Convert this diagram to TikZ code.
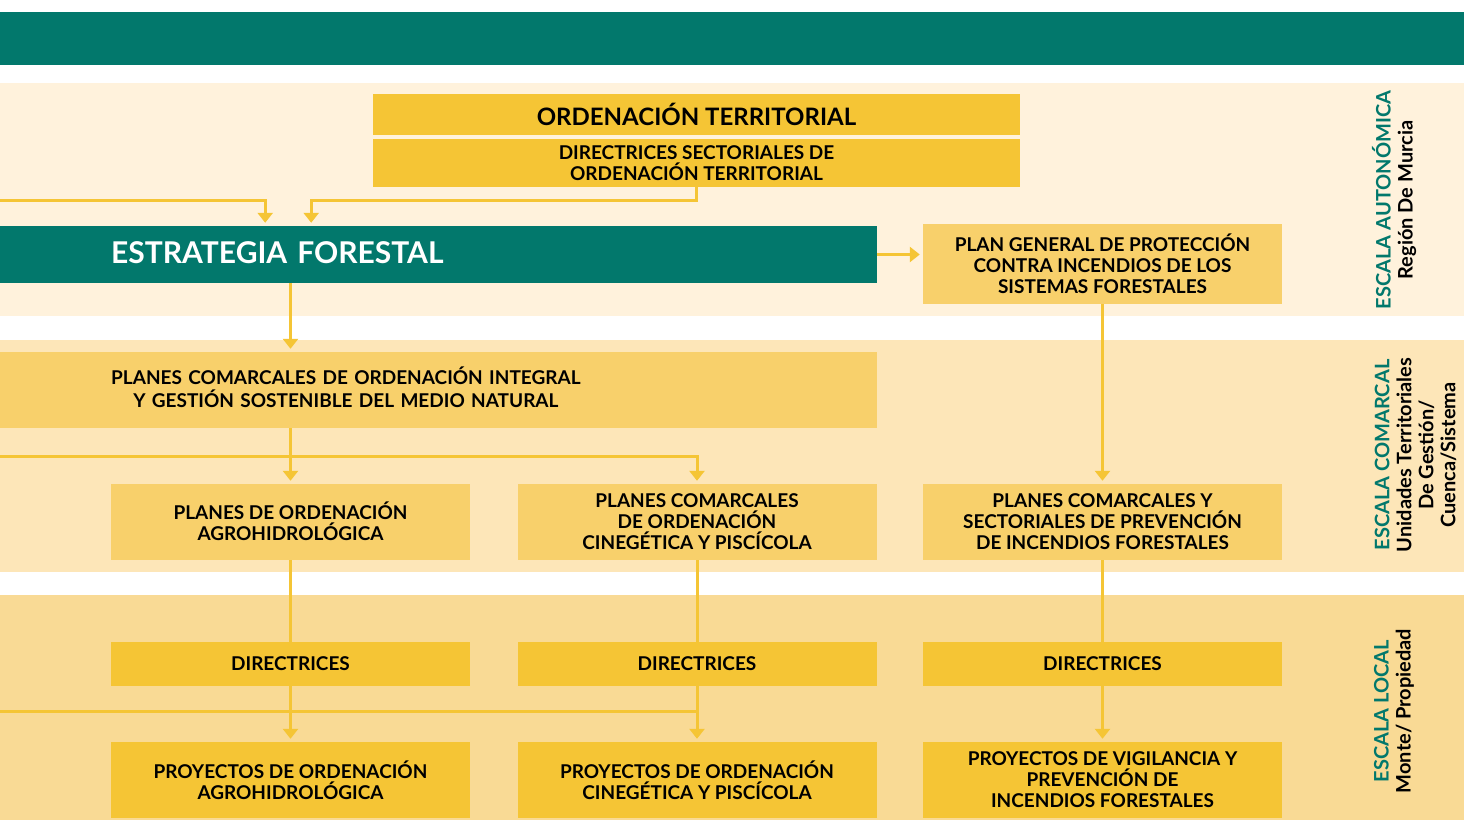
\documentclass[tikz,border=0pt]{standalone}
\usepackage{fontspec}
\setmainfont{Lato}
\usetikzlibrary{arrows.meta}
\definecolor{pine}{HTML}{02786C}
\definecolor{gold}{HTML}{F5C535}
\definecolor{straw}{HTML}{F8D06B}
\definecolor{bandA}{HTML}{FFF2DC}
\definecolor{bandB}{HTML}{FDE6B8}
\definecolor{bandC}{HTML}{F9DA95}
\begin{document}
\begin{tikzpicture}[x=1pt, y=-1pt,
    box/.style={fill=straw, minimum width=359pt, minimum height=76pt, inner sep=0pt,
      align=center, font=\fontsize{19}{21}\selectfont\bfseries},
    gbox/.style={box, fill=gold},
    side/.style={rotate=90, align=center, font=\fontsize{20}{22}\selectfont\bfseries},
    link/.style={gold, line width=3pt},
    arr/.style={link, -{Triangle[width=15pt,length=10pt]}, shorten >=3pt}]
  \useasboundingbox (0,0) rectangle (1464,820);
  \fill[white] (0,0) rectangle (1464,820);
  % bands
  \fill[pine] (0,12) rectangle (1464,65);
  \fill[bandA] (0,83) rectangle (1464,316);
  \fill[bandB] (0,340) rectangle (1464,572);
  \fill[bandC] (0,595) rectangle (1464,820);

  \node[gbox, minimum width=647pt, minimum height=41pt,
    font=\fontsize{24}{26}\selectfont\bfseries] (OT) at (696.5,114.5) {ORDENACIÓN TERRITORIAL};
  \node[gbox, minimum width=647pt, minimum height=48pt] (DS) at (696.5,163)
    {DIRECTRICES SECTORIALES DE\\ORDENACIÓN TERRITORIAL};
  \node[fill=pine, text=white, anchor=west, minimum height=57pt, inner xsep=111pt, inner ysep=0pt,
    text width=655pt, align=left, font=\fontsize{30}{32}\selectfont\bfseries] (EF) at (0,254.5)
    {\raisebox{3pt}{ESTRATEGIA FORESTAL}};
  \node[box, minimum height=80pt] (PG) at (1102.5,264)
    {PLAN GENERAL DE PROTECCIÓN\\CONTRA INCENDIOS DE LOS\\SISTEMAS FORESTALES};
  \node[box, anchor=west, inner xsep=111pt, text width=655pt, align=left] (PCOM) at (0,390)
    {\renewcommand\arraystretch{0.88}\begin{tabular}{@{}c@{}}PLANES COMARCALES DE ORDENACIÓN INTEGRAL\\Y GESTIÓN SOSTENIBLE DEL MEDIO NATURAL\end{tabular}};

  \node[box] (PA) at (290.5,522) {\raisebox{2pt}{\shortstack{PLANES DE ORDENACIÓN\\AGROHIDROLÓGICA}}};
  \node[box] (PC) at (697,522) {PLANES COMARCALES\\DE ORDENACIÓN\\CINEGÉTICA Y PISCÍCOLA};
  \node[box] (PS) at (1102.5,522) {PLANES COMARCALES Y\\SECTORIALES DE PREVENCIÓN\\DE INCENDIOS FORESTALES};

  \foreach \i/\x in {1/290.5, 2/697, 3/1102.5}
    \node[gbox, minimum height=44pt] (D\i) at (\x,664) {DIRECTRICES};

  \node[gbox] (PR1) at (290.5,780) {PROYECTOS DE ORDENACIÓN\\AGROHIDROLÓGICA};
  \node[gbox] (PR2) at (697,780) {PROYECTOS DE ORDENACIÓN\\CINEGÉTICA Y PISCÍCOLA};
  \node[gbox] (PR3) at (1102.5,780) {PROYECTOS DE VIGILANCIA Y\\PREVENCIÓN DE\\INCENDIOS FORESTALES};

  % scale labels
  \node[side] (S1) at (1394,200) {\textcolor{pine}{ESCALA AUTONÓMICA}\\Región De Murcia};
  \node[side] (S2) at (1415.5,455) {\textcolor{pine}{ESCALA COMARCAL}\\Unidades Territoriales\\De Gestión/\\Cuenca/Sistema};
  \node[side] (S3) at (1394,711) {\textcolor{pine}{ESCALA LOCAL}\\Monte/ Propiedad};

  % connectors
  \coordinate (inEF) at (0,200);
  \coordinate (inPC) at (0,456);
  \coordinate (inPR) at (0,711);
  \draw[arr] (inEF) -| ([xshift=-173.5pt]EF.north);
  \draw[arr] (DS.south) -- ++(0,13) -| ([xshift=-127.5pt]EF.north);
  \draw[arr] (EF.east) -- (PG.west |- EF.east);
  \draw[arr] (PA |- EF.south) -- (PA |- PCOM.north);
  \draw[arr] (PA |- PCOM.south) -- (PA.north);
  \draw[arr] (inPC) -| (PC.north);
  \draw[arr] (PG.south) -- (PS.north);
  \foreach \a/\b in {PA/D1, PC/D2, PS/D3}
    \draw[link] (\a) -- (\b);
  \foreach \i in {1,2,3}
    \draw[arr] (D\i) -- (PR\i);
  \draw[link] (inPR) -- (PR2.north |- inPR);
\end{tikzpicture}
\end{document}
